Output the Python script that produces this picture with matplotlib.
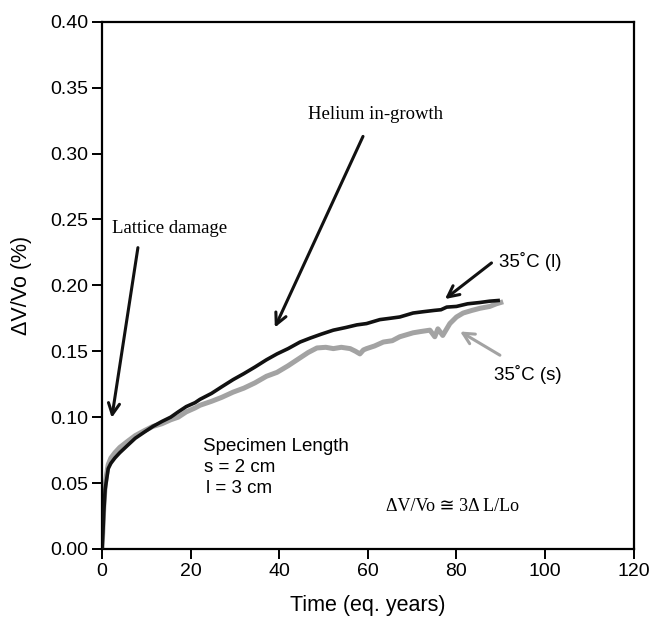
import matplotlib.pyplot as plt

# 35 C (l) specimen, black curve
time_l = [0, 0.2, 0.4, 0.7, 1.0, 1.4, 2.0, 2.9, 4.0, 5.9, 7.5, 9.7, 11.5, 13.5, 15.5, 17.2,
          19.0, 21.0, 22.1, 24.7, 27.0, 29.6, 32.0, 34.5, 37.1, 39.5, 42.0, 44.7, 47.0,
          49.5, 52.2, 55.0, 57.5, 59.7, 62.7, 65.0, 67.2, 70.2, 72.5, 75.0, 76.5,
          77.8, 80.0, 82.5, 85.3, 87.5, 89.4]
dvv_l = [0.0, 0.012, 0.028, 0.045, 0.052, 0.061, 0.065, 0.069, 0.073, 0.079, 0.084, 0.089,
         0.093, 0.0967, 0.100, 0.104, 0.108, 0.111, 0.1135, 0.118, 0.123, 0.1285, 0.133,
         0.138, 0.1435, 0.148, 0.152, 0.157, 0.160, 0.163, 0.166, 0.168, 0.170, 0.171,
         0.174, 0.175, 0.176, 0.179, 0.180, 0.181, 0.1815, 0.1835, 0.184, 0.186, 0.187,
         0.188, 0.1885]

# 35 C (s) specimen, grey curve
time_s = [0, 0.2, 0.4, 0.7, 1.0, 1.4, 2.0, 2.9, 4.0, 5.9, 7.5, 9.7, 11.5, 13.5, 15.5, 17.2,
          19.0, 21.0, 22.1, 24.7, 27.0, 29.6, 32.0, 34.5, 37.1, 39.5, 42.0, 44.7, 46.5,
          48.5, 50.5, 52.2, 54.0, 56.0, 57.2, 58.2, 59.0, 59.7, 61.5, 63.5, 65.5, 67.2,
          70.2, 72.0, 74.0, 75.1, 75.8, 76.9, 78.5, 80.0, 81.5, 83.5, 85.3, 87.5, 89.0, 90.0]
dvv_s = [0.0, 0.015, 0.032, 0.048, 0.056, 0.064, 0.069, 0.073, 0.077, 0.082, 0.086, 0.090,
         0.093, 0.095, 0.098, 0.100, 0.104, 0.107, 0.109, 0.112, 0.115, 0.119, 0.122,
         0.126, 0.131, 0.134, 0.139, 0.145, 0.149, 0.1525, 0.153, 0.152, 0.153, 0.152,
         0.150, 0.148, 0.151, 0.152, 0.154, 0.157, 0.158, 0.161, 0.164, 0.165, 0.166,
         0.161, 0.167, 0.162, 0.171, 0.176, 0.179, 0.181, 0.1826, 0.184, 0.186, 0.187]

plt.rcParams['font.family'] = ['Liberation Sans', 'DejaVu Sans']

fig = plt.figure(figsize=(6.54, 6.21), dpi=100)
ax = fig.add_axes([0.156, 0.116, 0.813, 0.849])

ax.plot(time_s, dvv_s, color='#a3a3a3', lw=3.6, solid_joinstyle='round', zorder=2)
ax.plot(time_l, dvv_l, color='#111111', lw=2.6, solid_joinstyle='round', zorder=3)

ax.set_xlim(0, 120)
ax.set_ylim(0, 0.40)
ax.set_xticks([0, 20, 40, 60, 80, 100, 120])
ax.set_yticks([0.0, 0.05, 0.10, 0.15, 0.20, 0.25, 0.30, 0.35, 0.40])
ax.set_yticklabels(['0.00', '0.05', '0.10', '0.15', '0.20', '0.25', '0.30', '0.35', '0.40'])
ax.tick_params(direction='out', length=7, width=1.4, labelsize=14, pad=3)
for sp in ax.spines.values():
    sp.set_linewidth(1.6)

ax.set_xlabel('Time (eq. years)', fontsize=15.5, labelpad=11)
ax.set_ylabel('ΔV/Vo (%)', fontsize=15.5, labelpad=13)

serif = ['Liberation Serif', 'DejaVu Serif', 'DejaVu Sans']
blk = dict(arrowstyle='->, head_length=0.8, head_width=0.4', lw=2.2, color='#111111', shrinkA=0, shrinkB=0)
gry = dict(arrowstyle='->, head_length=0.8, head_width=0.4', lw=2.2, color='#a3a3a3', shrinkA=0, shrinkB=0)

ax.text(2.3, 0.243, 'Lattice damage', family=serif, fontsize=13.5, ha='left', va='center')
ax.annotate('', xy=(2.2, 0.0995), xytext=(8.1, 0.2286), arrowprops=blk)

ax.text(46.5, 0.330, 'Helium in-growth', family=serif, fontsize=13.5, ha='left', va='center')
ax.annotate('', xy=(39.0, 0.168), xytext=(58.9, 0.313), arrowprops=blk)

ax.text(89.5, 0.218, '35˚C (l)', fontsize=13.5, ha='left', va='center')
ax.annotate('', xy=(77.4, 0.1896), xytext=(87.9, 0.217), arrowprops=blk)

ax.text(88.4, 0.132, '35˚C (s)', fontsize=13.5, ha='left', va='center')
ax.annotate('', xy=(80.8, 0.165), xytext=(89.8, 0.147), arrowprops=gry)

ax.text(22.8, 0.0775, 'Specimen Length', fontsize=13.5, ha='left', va='center')
ax.text(23.0, 0.062, 's = 2 cm', fontsize=13.5, ha='left', va='center')
ax.text(23.5, 0.0455, 'l = 3 cm', fontsize=13.5, ha='left', va='center')

ax.text(79.2, 0.032, 'ΔV/Vo ≅ 3Δ L/Lo', family=serif, fontsize=13, ha='center', va='center')

fig.savefig('out.png', dpi=100)
